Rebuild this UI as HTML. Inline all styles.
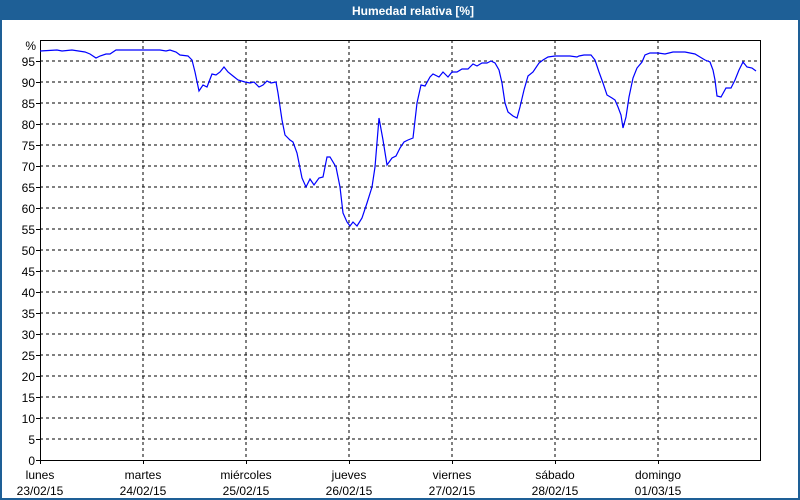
<!DOCTYPE html>
<html><head><meta charset="utf-8"><style>
html,body{margin:0;padding:0;background:#fff;}
svg{display:block;}
text{font-family:"Liberation Sans","DejaVu Sans",sans-serif;font-size:12px;fill:#000;}
</style></head><body>
<svg width="800" height="500" viewBox="0 0 800 500" xmlns="http://www.w3.org/2000/svg">
<rect x="0" y="0" width="800" height="500" fill="#fff"/>
<rect x="1" y="1" width="798" height="498" fill="none" stroke="#1e5f96" stroke-width="2"/>
<rect x="0" y="0" width="800" height="20" fill="#1e5f96"/>
<text x="413" y="15" text-anchor="middle" style="font-weight:bold;fill:#fff">Humedad relativa [%]</text>
<g stroke="#000" stroke-width="1" stroke-dasharray="3,3" shape-rendering="crispEdges">
<line x1="40" y1="439" x2="760" y2="439"/><line x1="40" y1="418" x2="760" y2="418"/><line x1="40" y1="397" x2="760" y2="397"/><line x1="40" y1="376" x2="760" y2="376"/><line x1="40" y1="355" x2="760" y2="355"/><line x1="40" y1="334" x2="760" y2="334"/><line x1="40" y1="313" x2="760" y2="313"/><line x1="40" y1="292" x2="760" y2="292"/><line x1="40" y1="271" x2="760" y2="271"/><line x1="40" y1="250" x2="760" y2="250"/><line x1="40" y1="229" x2="760" y2="229"/><line x1="40" y1="208" x2="760" y2="208"/><line x1="40" y1="187" x2="760" y2="187"/><line x1="40" y1="166" x2="760" y2="166"/><line x1="40" y1="145" x2="760" y2="145"/><line x1="40" y1="124" x2="760" y2="124"/><line x1="40" y1="103" x2="760" y2="103"/><line x1="40" y1="82" x2="760" y2="82"/><line x1="40" y1="61" x2="760" y2="61"/>
<line x1="143" y1="40" x2="143" y2="460"/><line x1="246" y1="40" x2="246" y2="460"/><line x1="349" y1="40" x2="349" y2="460"/><line x1="452" y1="40" x2="452" y2="460"/><line x1="555" y1="40" x2="555" y2="460"/><line x1="658" y1="40" x2="658" y2="460"/>
</g>
<g stroke="#000" stroke-width="1" shape-rendering="crispEdges">
<rect x="40.5" y="40.5" width="720" height="420" fill="none"/>
<line x1="36" y1="460.5" x2="40" y2="460.5"/><line x1="36" y1="439.5" x2="40" y2="439.5"/><line x1="36" y1="418.5" x2="40" y2="418.5"/><line x1="36" y1="397.5" x2="40" y2="397.5"/><line x1="36" y1="376.5" x2="40" y2="376.5"/><line x1="36" y1="355.5" x2="40" y2="355.5"/><line x1="36" y1="334.5" x2="40" y2="334.5"/><line x1="36" y1="313.5" x2="40" y2="313.5"/><line x1="36" y1="292.5" x2="40" y2="292.5"/><line x1="36" y1="271.5" x2="40" y2="271.5"/><line x1="36" y1="250.5" x2="40" y2="250.5"/><line x1="36" y1="229.5" x2="40" y2="229.5"/><line x1="36" y1="208.5" x2="40" y2="208.5"/><line x1="36" y1="187.5" x2="40" y2="187.5"/><line x1="36" y1="166.5" x2="40" y2="166.5"/><line x1="36" y1="145.5" x2="40" y2="145.5"/><line x1="36" y1="124.5" x2="40" y2="124.5"/><line x1="36" y1="103.5" x2="40" y2="103.5"/><line x1="36" y1="82.5" x2="40" y2="82.5"/><line x1="36" y1="61.5" x2="40" y2="61.5"/>
<line x1="40.5" y1="460" x2="40.5" y2="464"/><line x1="143.5" y1="460" x2="143.5" y2="464"/><line x1="246.5" y1="460" x2="246.5" y2="464"/><line x1="349.5" y1="460" x2="349.5" y2="464"/><line x1="452.5" y1="460" x2="452.5" y2="464"/><line x1="555.5" y1="460" x2="555.5" y2="464"/><line x1="658.5" y1="460" x2="658.5" y2="464"/>
</g>
<g text-anchor="end">
<text x="36" y="50">%</text>
<text x="35" y="465">0</text><text x="35" y="444">5</text><text x="35" y="423">10</text><text x="35" y="402">15</text><text x="35" y="381">20</text><text x="35" y="360">25</text><text x="35" y="339">30</text><text x="35" y="318">35</text><text x="35" y="297">40</text><text x="35" y="276">45</text><text x="35" y="255">50</text><text x="35" y="234">55</text><text x="35" y="213">60</text><text x="35" y="192">65</text><text x="35" y="171">70</text><text x="35" y="150">75</text><text x="35" y="129">80</text><text x="35" y="108">85</text><text x="35" y="87">90</text><text x="35" y="66">95</text>
</g>
<g text-anchor="middle">
<text x="40" y="479">lunes</text><text x="40" y="495">23/02/15</text>
<text x="143" y="479">martes</text><text x="143" y="495">24/02/15</text>
<text x="246" y="479">miércoles</text><text x="246" y="495">25/02/15</text>
<text x="349" y="479">jueves</text><text x="349" y="495">26/02/15</text>
<text x="452" y="479">viernes</text><text x="452" y="495">27/02/15</text>
<text x="555" y="479">sábado</text><text x="555" y="495">28/02/15</text>
<text x="658" y="479">domingo</text><text x="658" y="495">01/03/15</text>
</g>
<polyline fill="none" stroke="#0000ff" stroke-width="1.2" points="40,51 57,50 62,51 72,50 85,52 90,54 96,58 100,56 106,54 110,54 116,50 160,50 166,51 170,50 176,52 180,55 188,56 192,60 195,72 199,91 203,85 207,87 212,74 216,75 220,72 224,67 228,72 233,76 238,80 245,82 250,83 254,82 259,87 263,85 267,81 271,83 276,82 278,93 282,120 285,135 290,140 293,142 297,153 302,178 306,187 310,179 314,185 319,178 323,177 327,157 330,157 336,167 340,187 343,213 347,222 350,226 353,222 357,226 362,218 367,203 372,187 375,167 379,118 383,140 387,165 392,158 396,156 400,148 404,142 408,140 413,138 417,103 421,85 425,86 430,77 433,74 439,77 443,72 448,77 452,72 457,72 462,69 468,69 473,64 477,66 482,63 487,63 491,61 495,63 499,70 502,83 505,103 508,112 513,116 517,118 520,107 524,90 528,76 533,72 539,63 543,60 548,57 555,56 570,56 577,57 579,56 584,55 591,55 595,60 599,72 603,83 607,95 612,98 615,100 618,107 621,115 623,128 626,117 629,97 633,78 637,68 642,62 645,55 650,53 658,53 665,54 673,52 685,52 695,54 700,57 705,60 710,62 713,70 715,80 717,96 721,97 726,88 731,88 735,80 739,70 743,62 747,67 752,68 756,71"/>
</svg>
</body></html>
